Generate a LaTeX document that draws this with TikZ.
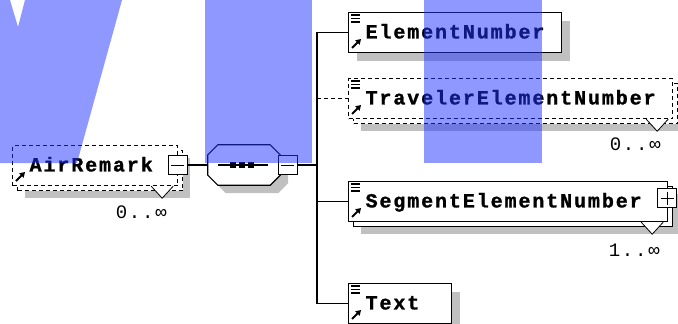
\documentclass[tikz,border=0pt]{standalone}
\usepackage{fontspec}
\usetikzlibrary{shadows,arrows.meta}
\newfontfamily\boxfont{Liberation Mono}[LetterSpace=9.5,HyphenChar=None,
  BoldFeatures={FakeBold=1.2}]
\definecolor{shadowgrey}{RGB}{192,192,192}
\definecolor{maskblue}{RGB}{31,51,255}
\tikzset{
  conn/.style={line width=1.2pt},
  optional/.style={dash pattern=on 4pt off 3pt},
  elem/.style={draw, line width=1.2pt, fill=white, anchor=north west,
    minimum height=40pt, inner xsep=17pt, inner ysep=0pt, align=left,
    text height=11.6pt, text depth=0pt,
    font=\boxfont\bfseries\fontsize{20}{20}\selectfont},
  single/.style={drop shadow={shadow xshift=8pt, shadow yshift=-8pt,
    opacity=1, fill=shadowgrey, draw=none}},
  multi/.style={drop shadow={shadow xshift=12pt, shadow yshift=-12pt,
    opacity=1, fill=shadowgrey, draw=none},
    copy shadow={shadow xshift=5pt, shadow yshift=-5pt}},
  collapse/.style={draw, fill=white, line width=1pt, minimum size=19pt, inner sep=0pt,
    path picture={\draw[line width=1pt] ([xshift=3pt]path picture bounding box.west)
      -- ([xshift=-3pt]path picture bounding box.east);}},
  expand/.style={collapse,
    path picture={\draw[line width=1pt] ([xshift=3pt]path picture bounding box.west)
      -- ([xshift=-3pt]path picture bounding box.east);
      \draw[line width=1pt] ([yshift=-3pt]path picture bounding box.north)
      -- ([yshift=3pt]path picture bounding box.south);}},
  sequence/.style={minimum width=72pt, minimum height=40pt, inner sep=0pt},
  octagon/.style={draw, line width=1.2pt, fill=white, single},
  occurs/.style={inner sep=0pt, anchor=east,
    font=\boxfont\fontsize{19}{19}\selectfont},
  notch/.style={line width=0.8pt, fill=white},
  lines icon/.pic={\foreach \y in {3,6.5,10}
      \draw[line width=1.1pt] (3,\y) -- (12,\y);},
  ref icon/.pic={\draw[line width=1.8pt, -{Triangle[length=5pt,width=6pt]}]
      (4,36) -- (13,27);}
}
\begin{document}
\begin{tikzpicture}[x=1pt,y=-1pt]
  \useasboundingbox[fill=white] (0,0) rectangle (678,324);

  % root element and its sequence
  \node[elem, optional, multi, text width=131pt] (ar) at (12,145) {AirRemark};
  \pic at (ar.north west) {ref icon};
  \node[collapse] (arcol) at (177.5,165) {};
  \node[sequence] (seq) at (244,165) {};
  \draw[octagon] ([xshift=10pt]seq.north west) -- ([xshift=-10pt]seq.north east)
    -- ([yshift=-10pt]seq.north east) -- ([yshift=10pt]seq.south east)
    -- ([xshift=-10pt]seq.south east) -- ([xshift=10pt]seq.south west)
    -- ([yshift=10pt]seq.south west) -- ([yshift=-10pt]seq.north west) -- cycle;
  \draw[conn] ([xshift=10pt]seq.west) -- ([xshift=-12pt]seq.east);
  \foreach \dx in {-11,-2,7}
    \fill ([xshift=\dx pt]seq.center) +(-3pt,-3pt) rectangle +(3pt,3pt);
  \node[collapse] (seqcol) at (287.5,165) {};
  \coordinate (bus) at (317,165);

  % children
  \node[elem, single, text width=179pt] (en) at (348,12) {ElementNumber};
  \node[elem, optional, multi, text width=290pt] (trv) at (348,78) {TravelerElementNumber};
  \node[elem, multi, text width=285pt] (seg) at (348,181) {SegmentElementNumber};
  \node[expand] (segexp) at (667,198) {};
  \node[elem, single, text width=69pt] (txt) at (348,283) {Text};
  \foreach \n in {en,trv,seg,txt}
    {\pic at (\n.north west) {lines icon};
     \pic at (\n.north west) {ref icon};}

  % occurrence marks
  \foreach \n in {ar,trv,seg}
    \draw[notch] ([xshift=-27pt]\n.south east) -- ++(11pt,-12pt) -- ++(11pt,12pt);
  \node[occurs] (arocc) at (167,212) {0..∞};
  \node[occurs] (trvocc) at (661,144) {0..∞};
  \node[occurs] (segocc) at (660,250) {1..∞};

  % connectors
  \draw[conn] (arcol.east) -- (seq.west);
  \draw[conn] (seqcol.east) -- (bus);
  \foreach \n in {en,seg,txt}
    \draw[conn] (bus) |- (\n.west);
  \draw[conn, optional] (bus |- trv.west) -- (trv.west);

  % blue marks on top
  \fill[maskblue, fill opacity=0.5] (0,0) -- (10,0) -- (18,27) -- (25,0) -- (122,0)
    -- (77,163) -- (0,163) -- cycle;
  \fill[maskblue, fill opacity=0.5] (205,0) rectangle (312,163);
  \fill[maskblue, fill opacity=0.5] (424,0) rectangle (542,163);
\end{tikzpicture}
\end{document}
